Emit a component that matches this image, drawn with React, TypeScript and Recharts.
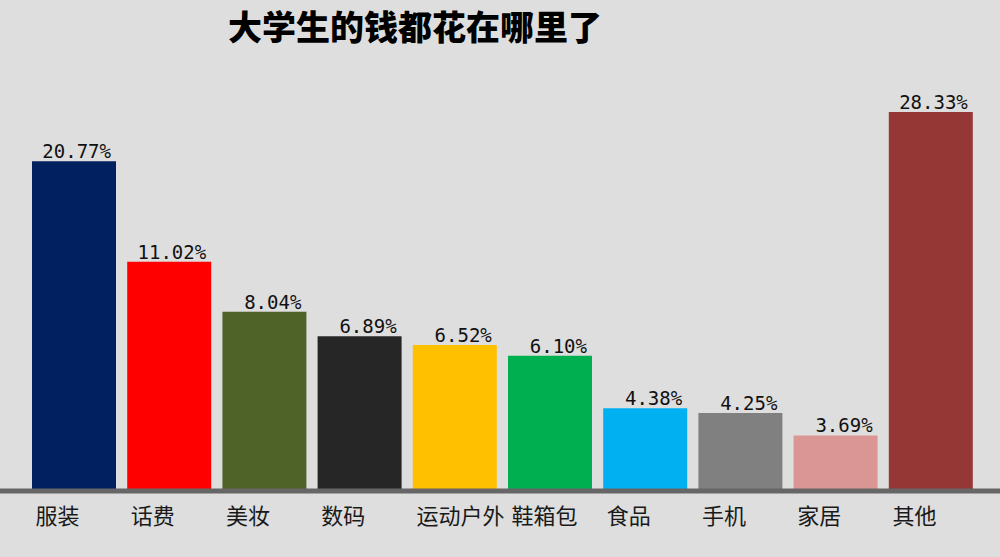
import React from 'react';
import { BarChart, Bar, XAxis, YAxis, Cell, LabelList } from 'recharts';

// spending share by category (%)
const categories = ['服装', '话费', '美妆', '数码', '运动户外', '鞋箱包', '食品', '手机', '家居', '其他'];
const shares = [20.77, 11.02, 8.04, 6.89, 6.52, 6.10, 4.38, 4.25, 3.69, 28.33];
const barColors = ['#002060', '#ff0000', '#4f6228', '#262626', '#ffc000', '#00b050', '#00b0f0', '#808080', '#d99694', '#953735'];

const data = categories.map((name, i) => ({ name, value: shares[i] }));

const ValueLabel = (props: any) => {
  const { x, y, width, value } = props;
  return (
    <text
      x={x + width - 5}
      y={y - 3}
      textAnchor="end"
      fontFamily="'DejaVu Sans Mono', monospace"
      fontSize={19}
      fill="#111"
    >
      {Number(value).toFixed(2)}%
    </text>
  );
};

// labels sit left-aligned under each bar
const CategoryTick = (props: any) => {
  const { x, y, payload } = props;
  return (
    <text
      x={x - 38}
      y={y + 33}
      textAnchor="start"
      fontFamily="'Noto Sans CJK SC', sans-serif"
      fontSize={22}
      fill="#1a1a1a"
    >
      {payload.value}
    </text>
  );
};

const App: React.FC = () => {
  return (
    <div style={{ position: 'absolute', left: 0, top: 0, width: 1000, height: 557, background: '#dedede' }}>
      <div
        style={{
          position: 'absolute',
          left: 228,
          top: 5,
          fontFamily: "'Noto Sans CJK SC', sans-serif",
          fontWeight: 900,
          fontSize: 34,
          lineHeight: '42px',
          color: '#000',
          whiteSpace: 'nowrap',
        }}
      >
        大学生的钱都花在哪里了
      </div>
      <BarChart
        width={1000}
        height={557}
        data={data}
        margin={{ top: 112, right: 0, left: 0, bottom: 0 }}
        style={{ position: 'absolute', left: 0, top: 0 }}
      >
        <XAxis
          dataKey="name"
          height={66}
          padding={{ left: 26, right: 22 }}
          axisLine={{ stroke: '#666', strokeWidth: 5 }}
          tickLine={false}
          tickSize={0}
          tickMargin={0}
          interval={0}
          tick={<CategoryTick />}
        />
        <YAxis hide type="number" scale="log" domain={[2.6, 28.33]} allowDataOverflow />
        <Bar dataKey="value" barSize={84} isAnimationActive={false}>
          {data.map((_, i) => (
            <Cell key={i} fill={barColors[i]} />
          ))}
          <LabelList dataKey="value" content={<ValueLabel />} />
        </Bar>
      </BarChart>
    </div>
  );
};

export default App;
